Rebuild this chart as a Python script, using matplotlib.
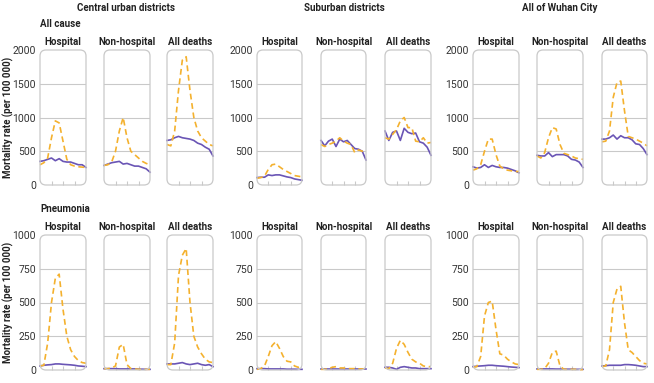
import numpy as np
import matplotlib
matplotlib.use('Agg')
from matplotlib import pyplot as plt
from matplotlib.patches import FancyBboxPatch

plt.rcParams['font.family'] = ['Roboto', 'DejaVu Sans']

# %%
weeks = list(range(1, 14))
regions = ['Central urban districts', 'Suburban districts', 'All of Wuhan City']
places = ['Hospital', 'Non-hospital', 'All deaths']

# all cause mortality, 2020 (dashed) and baseline (solid), order: hospital, non-hospital, all deaths
central_all_2020 = [
    [300, 330, 400, 700, 950, 920, 650, 380, 300, 280, 270, 265, 260],
    [290, 300, 340, 500, 800, 1000, 700, 500, 450, 400, 350, 320, 300],
    [600, 580, 800, 1400, 1850, 1900, 1400, 1000, 800, 700, 650, 600, 580],
]
central_all_base = [
    [350, 360, 380, 400, 360, 390, 350, 340, 340, 320, 300, 300, 260],
    [290, 310, 330, 340, 350, 310, 320, 300, 280, 280, 260, 240, 190],
    [660, 670, 700, 720, 700, 690, 680, 660, 620, 600, 560, 530, 430],
]
suburb_all_2020 = [
    [100, 110, 130, 230, 300, 310, 270, 230, 200, 170, 140, 130, 120],
    [600, 570, 600, 620, 650, 700, 650, 620, 600, 480, 520, 500, 500],
    [700, 680, 750, 820, 950, 1000, 850, 850, 650, 640, 700, 620, 630],
]
suburb_all_base = [
    [110, 115, 115, 150, 140, 150, 150, 135, 120, 110, 90, 80, 70],
    [660, 580, 650, 680, 570, 680, 640, 660, 600, 540, 530, 500, 370],
    [800, 660, 780, 800, 660, 840, 780, 760, 770, 640, 620, 560, 440],
]
wuhan_all_2020 = [
    [220, 240, 300, 500, 680, 680, 450, 280, 240, 220, 210, 200, 200],
    [430, 400, 480, 700, 850, 830, 600, 470, 450, 430, 400, 390, 380],
    [640, 650, 800, 1300, 1520, 1540, 1100, 720, 700, 680, 650, 620, 580],
]
wuhan_all_base = [
    [270, 250, 260, 300, 260, 290, 270, 260, 260, 250, 230, 210, 180],
    [440, 430, 430, 480, 420, 450, 450, 450, 430, 380, 370, 340, 260],
    [680, 680, 700, 740, 680, 730, 700, 700, 670, 610, 600, 540, 450],
]

# pneumonia mortality
central_pneu_2020 = [
    [30, 35, 200, 500, 680, 710, 450, 250, 150, 100, 70, 55, 50],
    [10, 10, 15, 30, 170, 190, 40, 10, 8, 5, 5, 5, 5],
    [40, 40, 200, 700, 850, 900, 500, 250, 170, 120, 80, 60, 55],
]
central_pneu_base = [
    [30, 35, 38, 40, 45, 45, 42, 40, 38, 35, 30, 28, 25],
    [10, 10, 10, 10, 8, 8, 8, 8, 8, 6, 6, 5, 5],
    [45, 45, 45, 50, 55, 45, 40, 45, 50, 40, 35, 40, 25],
]
suburb_pneu_2020 = [
    [5, 10, 30, 100, 180, 210, 160, 100, 65, 60, 30, 20, 25],
    [5, 5, 10, 20, 25, 15, 15, 10, 10, 10, 8, 8, 8],
    [15, 10, 50, 160, 220, 190, 130, 80, 60, 50, 30, 25, 25],
]
suburb_pneu_base = [
    [10, 10, 10, 8, 8, 8, 8, 8, 6, 6, 6, 5, 5],
    [5, 5, 5, 5, 5, 5, 5, 5, 5, 5, 5, 5, 5],
    [20, 20, 15, 5, 20, 25, 20, 15, 15, 10, 10, 10, 10],
]
wuhan_pneu_2020 = [
    [20, 25, 100, 400, 500, 510, 300, 120, 110, 80, 60, 45, 40],
    [5, 5, 10, 50, 130, 140, 30, 5, 5, 5, 5, 3, 3],
    [25, 30, 150, 500, 600, 620, 350, 150, 130, 100, 70, 50, 45],
]
wuhan_pneu_base = [
    [25, 28, 30, 32, 35, 35, 32, 30, 28, 25, 22, 20, 18],
    [8, 8, 8, 8, 8, 7, 7, 6, 6, 6, 5, 5, 5],
    [30, 32, 35, 35, 35, 35, 40, 40, 38, 35, 30, 25, 25],
]

all_ticks = [0, 500, 1000, 1500, 2000]
pneu_ticks = [0, 250, 500, 750, 1000]

ORANGE = '#F4B12E'
PURPLE = '#6A55B5'
FRAME = '#c9c9c9'
TEXT = '#222222'

# %%
W, H = 654, 383
fig = plt.figure(figsize=(W / 100, H / 100), dpi=100)

# panel left/right edges in pixels
panel_x = [
    [(40, 86), (104, 150), (167, 213)],
    [(257, 302), (321, 366), (385, 431)],
    [(473, 519), (537, 583), (602, 647)],
]
row_y = [(50, 185), (235, 370)]


def draw_panel(ax, y2020, ybase, ticks, show_labels):
    ax.plot(weeks, ybase, color=PURPLE, lw=1.2, zorder=3, clip_on=False)
    ax.plot(weeks, y2020, color=ORANGE, lw=1.2, ls=(0, (3.5, 2.2)), zorder=4, clip_on=False)
    ax.set_xlim(1, 13)
    ax.set_ylim(ticks[0], ticks[-1])
    for t in ticks[1:-1]:
        ax.axhline(t, color=FRAME, lw=0.8, zorder=1)
    for s in ax.spines.values():
        s.set_visible(False)
    ax.set_xticks([4, 7, 10])
    ax.set_xticklabels([])
    ax.tick_params(axis='x', direction='in', length=3, width=0.8, color=FRAME)
    ax.set_yticks(ticks)
    ax.tick_params(axis='y', length=0, pad=3, labelsize=7.5, labelcolor='#333333')
    if not show_labels:
        ax.set_yticklabels([])
    ax.patch.set_visible(False)


def add_frame(ax):
    fig.canvas.draw()
    bb = ax.get_position()
    x0, y0 = bb.x0 * W / 100, bb.y0 * H / 100
    w, h = bb.width * W / 100, bb.height * H / 100
    frame = FancyBboxPatch((x0, y0), w, h, boxstyle='round,pad=0,rounding_size=0.06',
                           transform=fig.dpi_scale_trans, fill=False,
                           edgecolor=FRAME, lw=0.9, zorder=0)
    fig.patches.append(frame)


def fx(px):
    return px / W


def fy(py):
    return 1 - py / H


rows = [
    ('All cause', all_ticks,
     [central_all_2020, suburb_all_2020, wuhan_all_2020],
     [central_all_base, suburb_all_base, wuhan_all_base]),
    ('Pneumonia', pneu_ticks,
     [central_pneu_2020, suburb_pneu_2020, wuhan_pneu_2020],
     [central_pneu_base, suburb_pneu_base, wuhan_pneu_base]),
]

for r, (cause, ticks, d2020, dbase) in enumerate(rows):
    top, bot = row_y[r]
    for g in range(3):
        for p in range(3):
            left, right = panel_x[g][p]
            ax = fig.add_axes([fx(left), fy(bot), (right - left) / W, (bot - top) / H])
            draw_panel(ax, d2020[g][p], dbase[g][p], ticks, p == 0)
            add_frame(ax)
            fig.text(fx((left + right) / 2), fy(top - 5), places[p], ha='center', va='baseline',
                     fontsize=7, fontweight='bold', color=TEXT)
    fig.text(fx(40), fy(top - 23), cause, ha='left', va='baseline',
             fontsize=7, fontweight='bold', color=TEXT)
    fig.text(fx(8), fy((top + bot) / 2), 'Mortality rate (per 100 000)', rotation=90,
             ha='center', va='center', fontsize=7, fontweight='bold', color=TEXT)

for g in range(3):
    cx = (panel_x[g][0][0] + panel_x[g][2][1]) / 2
    fig.text(fx(cx), fy(11), regions[g], ha='center', va='baseline',
             fontsize=7, fontweight='bold', color=TEXT)

fig.savefig('out.png', dpi=100)
